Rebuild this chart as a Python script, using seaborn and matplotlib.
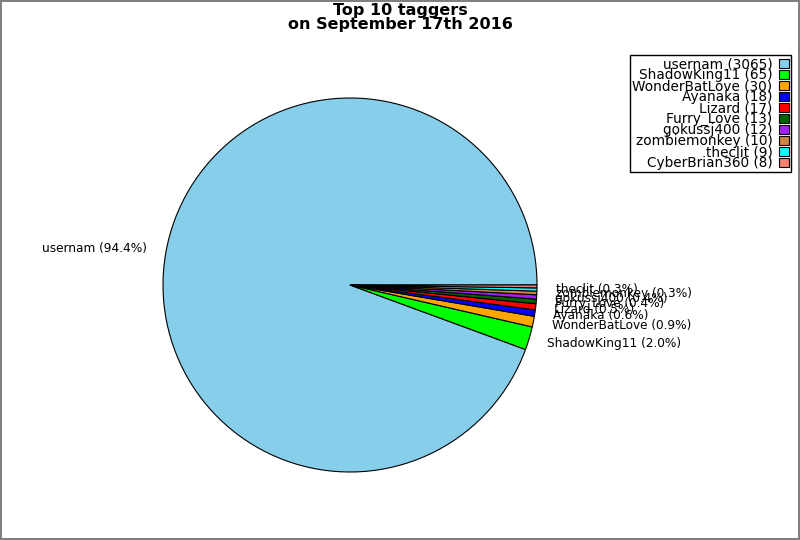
import matplotlib
matplotlib.use("Agg")
import matplotlib.pyplot as plt
import seaborn as sns

TAGGERS = [
    "usernam", "ShadowKing11", "WonderBatLove", "Ayanaka", "Lizard",
    "Furry_Love", "gokussj400", "zombiemonkey", "theclit", "CyberBrian360"
]
COUNTS = [3065, 65, 30, 18, 17, 13, 12, 10, 9, 8]
COLORS = [
    "skyblue", "lime", "orange", "blue", "red",
    "darkgreen", "#a020f0", "peru", "cyan", "salmon"
]

sns.set_theme(style="white")
plt.rcParams["font.family"] = ["DejaVu Sans"]
plt.rcParams["text.color"] = "black"

total = sum(COUNTS)
pie_labels = ["%s (%.1f%%)" % (n, 100.0 * c / total) for n, c in zip(TAGGERS, COUNTS)]
pie_labels[-1] = ""
legend_labels = ["%s (%d)" % (n, c) for n, c in zip(TAGGERS, COUNTS)]

fig = plt.figure(figsize=(8, 5.4), dpi=100)
fig.patch.set_edgecolor("gray")
fig.patch.set_linewidth(1.5)

r = 187
ax = fig.add_axes([(350 - r) / 800, (255 - r) / 540, 2 * r / 800, 2 * r / 540])
wedges, texts = ax.pie(
    COUNTS, labels=pie_labels, colors=COLORS, startangle=0,
    counterclock=True, labeldistance=1.1,
    wedgeprops={"edgecolor": "black", "linewidth": 0.8},
    textprops={"fontsize": 8.7, "color": "black"},
)
ax.set_xlim(-1, 1)
ax.set_ylim(-1, 1)
ax.set_aspect("equal")
ax.axis("off")

fig.suptitle("Top 10 taggers\non September 17th 2016", fontsize=11.5,
             fontweight="bold", y=0.995, linespacing=0.95, color="black")

leg = fig.legend(
    wedges, legend_labels, loc="upper right",
    bbox_to_anchor=(791 / 800, 1 - 55 / 540), borderaxespad=0,
    markerfirst=False, fontsize=9.8, labelspacing=-0.22,
    handlelength=0.7, handleheight=0.7, handletextpad=0.5,
    fancybox=False, frameon=True, edgecolor="black", framealpha=1,
    borderpad=0.15,
)
leg.get_frame().set_linewidth(1)
for t in leg.get_texts():
    t.set_ha("right")
    t.set_color("black")
leg._legend_box.align = "right"

fig.savefig("out.png", dpi=100, edgecolor=fig.get_edgecolor())
